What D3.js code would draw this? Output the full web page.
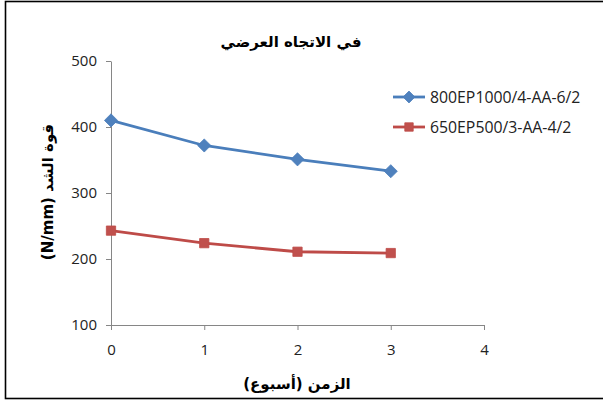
<!DOCTYPE html>
<html>
<head>
<meta charset="utf-8">
<script src="https://cdn.jsdelivr.net/npm/d3@7"></script>
<style>
  html, body { margin: 0; padding: 0; background: #fff; }
  svg { display: block; }
</style>
</head>
<body>
<svg id="chart" width="603" height="401"></svg>
<script>
// Time in weeks and tensile strength (N/mm) for two specimens
const weeks = [0, 1, 2, 3];
const seriesNames = ["800EP1000/4-AA-6/2", "650EP500/3-AA-4/2"];
const blueValues = [410, 372, 351, 333];
const redValues = [243, 224, 211, 209];
const xTicks = [0, 1, 2, 3, 4];
const yTicks = [100, 200, 300, 400, 500];
const titleText = "في الاتجاه العرضي";
const xLabel = "الزمن (أسبوع)";
const yLabel = "قوة الشد (N/mm)";

const series = [
  { name: seriesNames[0], values: blueValues, line: "#4A7EBB", fill: "#4F81BD", shape: d3.symbolDiamond2 },
  { name: seriesNames[1], values: redValues, line: "#BE4B48", fill: "#C0504D", shape: d3.symbolSquare2 }
];

const svg = d3.select("#chart");
const font = "'Open Sans', 'DejaVu Sans', sans-serif";
const arabicFont = "'DejaVu Sans', sans-serif";

svg.append("rect").attr("width", 603).attr("height", 401).attr("fill", "#fff");
// chart frame
svg.append("rect")
  .attr("x", 5.5).attr("y", 1.5).attr("width", 700).attr("height", 397)
  .attr("fill", "none").attr("stroke", "#000").attr("stroke-width", 1.6);

const x = d3.scaleLinear().domain([0, 4]).range([111, 484]);
const y = d3.scaleLinear().domain([100, 500]).range([325, 61]);

const axisColor = "#868686";

// y axis
const gy = svg.append("g").attr("transform", `translate(${x(0)},0)`)
  .call(d3.axisLeft(y).tickValues(yTicks).tickFormat(d3.format("d"))
    .tickSize(5).tickSizeOuter(0).tickPadding(9));
// x axis
const gx = svg.append("g").attr("transform", `translate(0,${y(100)})`)
  .call(d3.axisBottom(x).tickValues(xTicks).tickFormat(d3.format("d"))
    .tickSize(5).tickSizeOuter(0).tickPadding(14));

[gx, gy].forEach(g => {
  g.select(".domain").attr("stroke", axisColor).attr("stroke-width", 1);
  g.selectAll(".tick line").attr("stroke", axisColor).attr("stroke-width", 1);
  g.selectAll(".tick text").attr("fill", "#222").style("font-family", font).style("font-size", "15px");
});

// series lines and markers
const line = d3.line().x((d, i) => x(weeks[i])).y(d => y(d));
series.forEach(s => {
  svg.append("path").datum(s.values)
    .attr("d", line).attr("fill", "none")
    .attr("stroke", s.line).attr("stroke-width", 2.8).attr("stroke-linejoin", "round");
  svg.selectAll(null).data(s.values).enter().append("path")
    .attr("d", d3.symbol(s.shape, 110)())
    .attr("transform", (d, i) => `translate(${x(weeks[i])},${y(d)})`)
    .attr("fill", s.fill).attr("stroke", s.line).attr("stroke-width", 0.8);
});

// title
svg.append("text")
  .attr("x", 291).attr("y", 47)
  .attr("text-anchor", "middle").attr("direction", "rtl")
  .style("font-family", arabicFont).style("font-size", "15px").style("font-weight", "bold")
  .attr("fill", "#000").text(titleText);

// axis titles
svg.append("text")
  .attr("x", 297).attr("y", 389)
  .attr("text-anchor", "middle").attr("direction", "rtl")
  .style("font-family", arabicFont).style("font-size", "15px").style("font-weight", "bold")
  .attr("fill", "#000").text(xLabel);

svg.append("text")
  .attr("transform", "translate(53,192) rotate(-90)")
  .attr("text-anchor", "middle").attr("direction", "rtl")
  .style("font-family", arabicFont).style("font-size", "15px").style("font-weight", "bold")
  .attr("fill", "#000").text(yLabel);

// legend
const legend = svg.append("g");
series.forEach((s, i) => {
  const ly = 97 + i * 30;
  legend.append("line").attr("x1", 393).attr("x2", 425).attr("y1", ly).attr("y2", ly)
    .attr("stroke", s.line).attr("stroke-width", 2.8);
  legend.append("path").attr("d", d3.symbol(s.shape, 90)())
    .attr("transform", `translate(409,${ly})`)
    .attr("fill", s.fill).attr("stroke", s.line).attr("stroke-width", 0.8);
  legend.append("text").attr("x", 430).attr("y", ly).attr("dy", "0.36em")
    .style("font-family", font).style("font-size", "15.8px")
    .attr("fill", "#222").text(s.name);
});
</script>
</body>
</html>
